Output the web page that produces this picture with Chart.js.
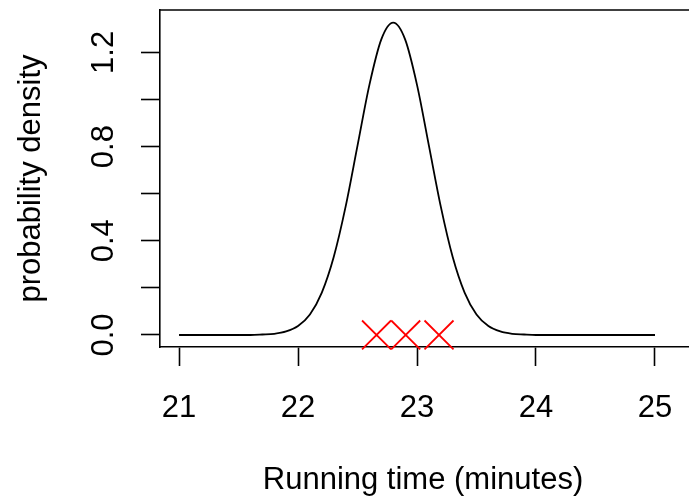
<!DOCTYPE html>
<html>
<head>
<meta charset="utf-8">
<script src="https://cdn.jsdelivr.net/npm/chart.js@4.4.1/dist/chart.umd.min.js"></script>
<style>
  html, body { margin: 0; padding: 0; background: #fff; }
  canvas { display: block; }
</style>
</head>
<body>
<canvas id="densityChart" width="689" height="501"></canvas>
<script>
// density curve
const runTimes = [21.0, 21.6, 21.7, 21.8, 21.9, 22.0, 22.1, 22.2, 22.3, 22.4, 22.5, 22.6, 22.7,
    22.8, 22.9, 23.0, 23.1, 23.2, 23.3, 23.4, 23.5, 23.6, 23.7, 23.8, 23.9, 24.0, 25.0];
const densities = [0, 0.0, 0.002, 0.005, 0.015, 0.038, 0.087, 0.18, 0.331, 0.545, 0.804, 1.062, 1.255,
    1.326, 1.255, 1.062, 0.804, 0.545, 0.331, 0.18, 0.087, 0.038, 0.015, 0.005, 0.002, 0.0, 0];

// observed running times (red crosses)
const observedTimes = [22.66, 22.905, 23.185];

const xTicks = [21, 22, 23, 24, 25];
const yTicks = [0, 0.2, 0.4, 0.6, 0.8, 1.0, 1.2];
const yLabelValues = [0, 0.4, 0.8, 1.2];
const yLabelTexts = ["0.0", "0.4", "0.8", "1.2"];

const FONT = '"Liberation Sans", Arial, Helvetica, sans-serif';

const curvePoints = runTimes.map((t, i) => ({ x: t, y: densities[i] }));
const obsPoints = observedTimes.map((t) => ({ x: t, y: 0 }));

// R-style frame + text
const rFrame = {
    id: "rFrame",
    afterDraw(chart) {
        const ctx = chart.ctx;
        const a = chart.chartArea;
        const xs = chart.scales.x;
        const ys = chart.scales.y;
        ctx.save();
        ctx.strokeStyle = "#000";
        ctx.lineWidth = 1.6;
        ctx.beginPath();
        ctx.moveTo(a.left, a.top);
        ctx.lineTo(a.right + 2, a.top);
        ctx.stroke();

        ctx.fillStyle = "#000";
        ctx.font = "31px " + FONT;
        ctx.textAlign = "center";
        ctx.textBaseline = "alphabetic";
        xTicks.forEach((v) => {
            ctx.fillText(String(v), xs.getPixelForValue(v), a.bottom + 70);
        });
        yLabelValues.forEach((v, i) => {
            ctx.save();
            ctx.translate(a.left - 47.5, ys.getPixelForValue(v));
            ctx.rotate(-Math.PI / 2);
            ctx.fillText(yLabelTexts[i], 0, 0);
            ctx.restore();
        });

        ctx.fillText("Running time (minutes)", 423, a.bottom + 142);
        ctx.save();
        ctx.translate(39.5, (a.top + a.bottom) / 2);
        ctx.rotate(-Math.PI / 2);
        ctx.fillText("probability density", 0, 0);
        ctx.restore();
        ctx.restore();
    }
};

const ctx = document.getElementById("densityChart").getContext("2d");
new Chart(ctx, {
    type: "scatter",
    data: {
        datasets: [
            {
                data: curvePoints,
                showLine: true,
                borderColor: "#000",
                borderWidth: 1.8,
                pointRadius: 0,
                cubicInterpolationMode: "monotone",
                fill: false
            },
            {
                data: obsPoints,
                pointStyle: "crossRot",
                pointRadius: 20.5,
                pointBorderColor: "#ff0000",
                pointBorderWidth: 1.8,
                pointBackgroundColor: "#ff0000",
                clip: false
            }
        ]
    },
    options: {
        responsive: false,
        animation: false,
        events: [],
        layout: {
            autoPadding: false,
            padding: { left: 141, top: 10, right: 0, bottom: 135 }
        },
        plugins: {
            legend: { display: false },
            tooltip: { enabled: false }
        },
        scales: {
            x: {
                type: "linear",
                min: 20.84,
                max: 25.286,
                afterBuildTicks: (scale) => {
                    scale.ticks = xTicks.map((v) => ({ value: v }));
                },
                ticks: { display: false },
                grid: {
                    drawOnChartArea: false,
                    drawTicks: true,
                    tickLength: 19,
                    tickColor: "#000",
                    tickWidth: 1.6
                },
                border: { display: true, color: "#000", width: 1.6 }
            },
            y: {
                type: "linear",
                min: -0.051,
                max: 1.38,
                afterBuildTicks: (scale) => {
                    scale.ticks = yTicks.map((v) => ({ value: v }));
                },
                ticks: { display: false },
                grid: {
                    drawOnChartArea: false,
                    drawTicks: true,
                    tickLength: 19,
                    tickColor: "#000",
                    tickWidth: 1.6
                },
                border: { display: true, color: "#000", width: 1.6 }
            }
        }
    },
    plugins: [rFrame]
});
</script>
</body>
</html>
